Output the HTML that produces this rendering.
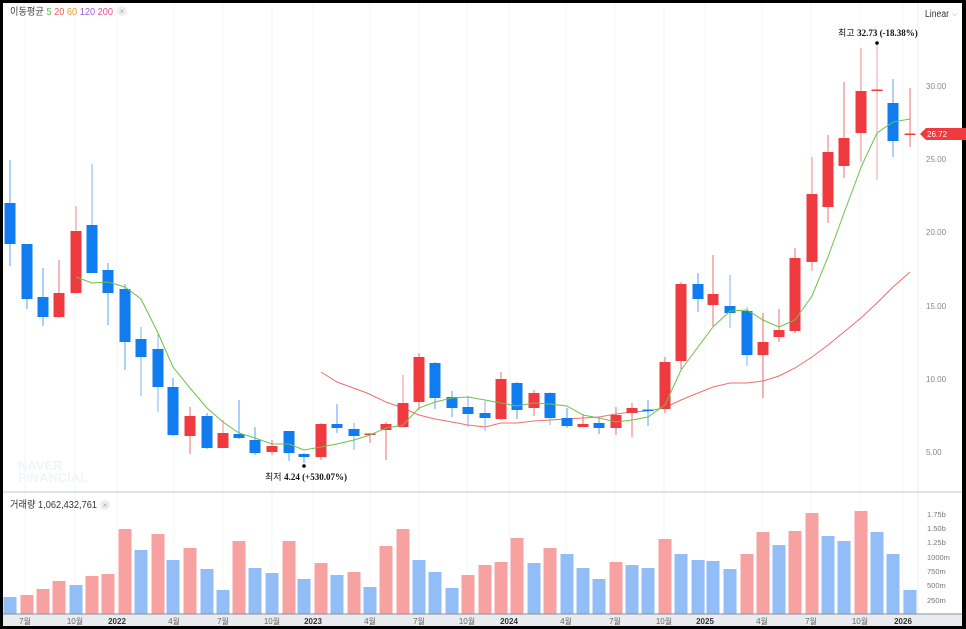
<!DOCTYPE html>
<html><head><meta charset="utf-8"><style>
html,body{margin:0;padding:0;background:#000;width:966px;height:629px;overflow:hidden}
svg{display:block}
text{font-family:"Liberation Sans","Noto Sans CJK KR",sans-serif}
</style></head><body>
<svg width="966" height="629" viewBox="0 0 966 629" xmlns="http://www.w3.org/2000/svg">
<rect x="0" y="0" width="966" height="629" fill="#000"/>
<rect x="3" y="3" width="959" height="623" fill="#fff"/>
<g stroke="#f3f4f6" stroke-width="1">
<line x1="25" y1="3" x2="25" y2="614"/><line x1="75" y1="3" x2="75" y2="614"/><line x1="117" y1="3" x2="117" y2="614"/><line x1="174" y1="3" x2="174" y2="614"/><line x1="223" y1="3" x2="223" y2="614"/><line x1="272" y1="3" x2="272" y2="614"/><line x1="313" y1="3" x2="313" y2="614"/><line x1="370" y1="3" x2="370" y2="614"/><line x1="419" y1="3" x2="419" y2="614"/><line x1="467" y1="3" x2="467" y2="614"/><line x1="509" y1="3" x2="509" y2="614"/><line x1="566" y1="3" x2="566" y2="614"/><line x1="615" y1="3" x2="615" y2="614"/><line x1="664" y1="3" x2="664" y2="614"/><line x1="705" y1="3" x2="705" y2="614"/><line x1="762" y1="3" x2="762" y2="614"/><line x1="811" y1="3" x2="811" y2="614"/><line x1="860" y1="3" x2="860" y2="614"/><line x1="903" y1="3" x2="903" y2="614"/>
</g>
<line x1="918" y1="3" x2="918" y2="614" stroke="#eceef1"/>
<line x1="3" y1="492" x2="962" y2="492" stroke="#d5d8dd" stroke-width="1.5"/>
<text x="18" y="470" font-size="13" font-weight="bold" fill="#f3f4f6">NAVER</text>
<text x="18" y="482" font-size="13" font-weight="bold" fill="#f3f4f6">FINANCIAL</text>
<text x="10" y="15" font-size="10" fill="#444" textLength="103" lengthAdjust="spacingAndGlyphs">이동평균 <tspan fill="#5fbf4a">5</tspan> <tspan fill="#f25a5a">20</tspan> <tspan fill="#f5962a">60</tspan> <tspan fill="#a25ed8">120</tspan> <tspan fill="#ea4d8c">200</tspan></text>
<circle cx="122" cy="11" r="5" fill="#eee"/><text x="122" y="14" font-size="8" fill="#aaa" text-anchor="middle">×</text>
<text x="925" y="17" font-size="10" fill="#333" textLength="24" lengthAdjust="spacingAndGlyphs">Linear</text><text x="952" y="16" font-size="7" fill="#999">⌵</text>
<g font-size="8" fill="#888">
<text x="926" y="89">30.00</text><text x="926" y="162">25.00</text><text x="926" y="235">20.00</text><text x="926" y="309">15.00</text><text x="926" y="382">10.00</text><text x="926" y="455">5.00</text>
</g>
<path d="M920 134 L926 128 L966 128 L966 140 L926 140 Z" fill="#ef3a3f"/>
<text x="927" y="137" font-size="8" fill="#fff">26.72</text>
<polyline fill="none" stroke="#f26d6d" stroke-width="1" points="321,372 337,382 367,393 386,402 403,408 419,415 435,419 452,422 468,425 485,427 501,423 517,423 534,421 550,420 567,419 583,418 599,417 616,414 632,412 648,411 664,408 681,400 698,393 713,387 730,383 747,383 763,381 779,376 795,368 812,357 828,345 844,332 862,317 878,302 893,287 910,272"/>
<g>
<line x1="10" y1="160" x2="10" y2="266" stroke="#5aa2f3"/><rect x="4.5" y="203" width="11" height="41" fill="#0f7cf0"/>
<line x1="27" y1="244" x2="27" y2="309" stroke="#5aa2f3"/><rect x="21.5" y="244" width="11" height="55" fill="#0f7cf0"/>
<line x1="43" y1="268" x2="43" y2="326" stroke="#5aa2f3"/><rect x="37.5" y="297" width="11" height="20" fill="#0f7cf0"/>
<line x1="59" y1="260" x2="59" y2="318" stroke="#f26d6d"/><rect x="53.5" y="293" width="11" height="24" fill="#ef3a3f"/>
<line x1="76" y1="206" x2="76" y2="294" stroke="#f58d8d"/><rect x="70.5" y="231" width="11" height="62" fill="#ef3a3f"/>
<line x1="92" y1="164" x2="92" y2="273" stroke="#7db5f5"/><rect x="86.5" y="225" width="11" height="48" fill="#0f7cf0"/>
<line x1="108" y1="263" x2="108" y2="325" stroke="#5aa2f3"/><rect x="102.5" y="270" width="11" height="23" fill="#0f7cf0"/>
<line x1="125" y1="284" x2="125" y2="370" stroke="#5aa2f3"/><rect x="119.5" y="289" width="11" height="53" fill="#0f7cf0"/>
<line x1="141" y1="327" x2="141" y2="396" stroke="#7db5f5"/><rect x="135.5" y="339" width="11" height="18" fill="#0f7cf0"/>
<line x1="158" y1="334" x2="158" y2="412" stroke="#7db5f5"/><rect x="152.5" y="349" width="11" height="38" fill="#0f7cf0"/>
<line x1="173" y1="378" x2="173" y2="436" stroke="#5aa2f3"/><rect x="167.5" y="387" width="11" height="48" fill="#0f7cf0"/>
<line x1="190" y1="407" x2="190" y2="454" stroke="#f26d6d"/><rect x="184.5" y="416" width="11" height="20" fill="#ef3a3f"/>
<line x1="207" y1="413" x2="207" y2="449" stroke="#5aa2f3"/><rect x="201.5" y="416" width="11" height="32" fill="#0f7cf0"/>
<line x1="223" y1="420" x2="223" y2="448" stroke="#f58d8d"/><rect x="217.5" y="433" width="11" height="15" fill="#ef3a3f"/>
<line x1="239" y1="400" x2="239" y2="439" stroke="#5aa2f3"/><rect x="233.5" y="434" width="11" height="4" fill="#0f7cf0"/>
<line x1="255" y1="427" x2="255" y2="455" stroke="#5aa2f3"/><rect x="249.5" y="440" width="11" height="13" fill="#0f7cf0"/>
<line x1="272" y1="440" x2="272" y2="455" stroke="#f26d6d"/><rect x="266.5" y="446" width="11" height="6" fill="#ef3a3f"/>
<line x1="289" y1="431" x2="289" y2="461" stroke="#5aa2f3"/><rect x="283.5" y="431" width="11" height="22" fill="#0f7cf0"/>
<line x1="304" y1="453" x2="304" y2="463" stroke="#5aa2f3"/><rect x="298.5" y="454" width="11" height="3" fill="#0f7cf0"/>
<line x1="321" y1="423" x2="321" y2="460" stroke="#f26d6d"/><rect x="315.5" y="424" width="11" height="33" fill="#ef3a3f"/>
<line x1="337" y1="404" x2="337" y2="433" stroke="#5aa2f3"/><rect x="331.5" y="424" width="11" height="4" fill="#0f7cf0"/>
<line x1="354" y1="423" x2="354" y2="450" stroke="#7db5f5"/><rect x="348.5" y="429" width="11" height="7" fill="#0f7cf0"/>
<line x1="370" y1="433" x2="370" y2="443" stroke="#f26d6d"/><rect x="364.5" y="433.5" width="11" height="1.5" fill="#ef3a3f"/>
<line x1="386" y1="422" x2="386" y2="460" stroke="#f26d6d"/><rect x="380.5" y="424" width="11" height="6" fill="#ef3a3f"/>
<line x1="403" y1="375" x2="403" y2="427" stroke="#f58d8d"/><rect x="397.5" y="403" width="11" height="24" fill="#ef3a3f"/>
<line x1="419" y1="353" x2="419" y2="410" stroke="#f26d6d"/><rect x="413.5" y="357" width="11" height="45" fill="#ef3a3f"/>
<line x1="435" y1="362" x2="435" y2="409" stroke="#5aa2f3"/><rect x="429.5" y="363" width="11" height="35" fill="#0f7cf0"/>
<line x1="452" y1="391" x2="452" y2="417" stroke="#5aa2f3"/><rect x="446.5" y="397" width="11" height="11" fill="#0f7cf0"/>
<line x1="468" y1="396" x2="468" y2="427" stroke="#7db5f5"/><rect x="462.5" y="407" width="11" height="7" fill="#0f7cf0"/>
<line x1="485" y1="401" x2="485" y2="431" stroke="#7db5f5"/><rect x="479.5" y="413" width="11" height="5" fill="#0f7cf0"/>
<line x1="501" y1="372" x2="501" y2="420" stroke="#f26d6d"/><rect x="495.5" y="379" width="11" height="40" fill="#ef3a3f"/>
<line x1="517" y1="382" x2="517" y2="419" stroke="#5aa2f3"/><rect x="511.5" y="383" width="11" height="27" fill="#0f7cf0"/>
<line x1="534" y1="390" x2="534" y2="416" stroke="#f26d6d"/><rect x="528.5" y="393" width="11" height="15" fill="#ef3a3f"/>
<line x1="550" y1="392" x2="550" y2="425" stroke="#7db5f5"/><rect x="544.5" y="393" width="11" height="25" fill="#0f7cf0"/>
<line x1="567" y1="408" x2="567" y2="428" stroke="#5aa2f3"/><rect x="561.5" y="418" width="11" height="8" fill="#0f7cf0"/>
<line x1="583" y1="414" x2="583" y2="427" stroke="#f26d6d"/><rect x="577.5" y="424" width="11" height="3" fill="#ef3a3f"/>
<line x1="599" y1="418" x2="599" y2="434" stroke="#5aa2f3"/><rect x="593.5" y="423" width="11" height="5" fill="#0f7cf0"/>
<line x1="616" y1="407" x2="616" y2="435" stroke="#f26d6d"/><rect x="610.5" y="415" width="11" height="13" fill="#ef3a3f"/>
<line x1="632" y1="403" x2="632" y2="437" stroke="#f26d6d"/><rect x="626.5" y="408" width="11" height="5" fill="#ef3a3f"/>
<line x1="648" y1="400" x2="648" y2="426" stroke="#5aa2f3"/><rect x="642.5" y="409.5" width="11" height="1.5" fill="#0f7cf0"/>
<line x1="665" y1="357" x2="665" y2="413" stroke="#f26d6d"/><rect x="659.5" y="362" width="11" height="47" fill="#ef3a3f"/>
<line x1="681" y1="282" x2="681" y2="369" stroke="#f26d6d"/><rect x="675.5" y="284" width="11" height="77" fill="#ef3a3f"/>
<line x1="698" y1="273" x2="698" y2="312" stroke="#5aa2f3"/><rect x="692.5" y="284" width="11" height="15" fill="#0f7cf0"/>
<line x1="713" y1="255" x2="713" y2="326" stroke="#f26d6d"/><rect x="707.5" y="294" width="11" height="11" fill="#ef3a3f"/>
<line x1="730" y1="275" x2="730" y2="328" stroke="#7db5f5"/><rect x="724.5" y="306" width="11" height="7" fill="#0f7cf0"/>
<line x1="747" y1="307" x2="747" y2="366" stroke="#7db5f5"/><rect x="741.5" y="311" width="11" height="44" fill="#0f7cf0"/>
<line x1="763" y1="313" x2="763" y2="398" stroke="#f26d6d"/><rect x="757.5" y="342" width="11" height="13" fill="#ef3a3f"/>
<line x1="779" y1="309" x2="779" y2="342" stroke="#f26d6d"/><rect x="773.5" y="330" width="11" height="7" fill="#ef3a3f"/>
<line x1="795" y1="248" x2="795" y2="333" stroke="#f26d6d"/><rect x="789.5" y="258" width="11" height="73" fill="#ef3a3f"/>
<line x1="812" y1="157" x2="812" y2="271" stroke="#f58d8d"/><rect x="806.5" y="194" width="11" height="68" fill="#ef3a3f"/>
<line x1="828" y1="135" x2="828" y2="223" stroke="#f26d6d"/><rect x="822.5" y="152" width="11" height="55" fill="#ef3a3f"/>
<line x1="844" y1="82" x2="844" y2="178" stroke="#f26d6d"/><rect x="838.5" y="138" width="11" height="28" fill="#ef3a3f"/>
<line x1="861" y1="48" x2="861" y2="162" stroke="#f58d8d"/><rect x="855.5" y="91" width="11" height="42" fill="#ef3a3f"/>
<line x1="877" y1="43" x2="877" y2="180" stroke="#f5a0a0"/><rect x="871.5" y="89.5" width="11" height="1.5" fill="#ef3a3f"/>
<line x1="893" y1="79" x2="893" y2="157" stroke="#5aa2f3"/><rect x="887.5" y="103" width="11" height="38" fill="#0f7cf0"/>
<line x1="910" y1="88" x2="910" y2="147" stroke="#f26d6d"/><rect x="904.5" y="133.5" width="11" height="1.5" fill="#ef3a3f"/>
</g>
<polyline fill="none" stroke="#6cc24a" stroke-width="1" points="76,277 92,283 108,282 125,287 141,299 158,333 173,367 190,388 207,408 223,422 239,433 255,438 272,444 289,444 304,450 321,447 337,444 354,440 370,435 386,428 403,425 419,408 435,402 452,398 468,397 485,400 501,403 517,406 534,403 550,404 567,406 583,415 599,418 616,422 632,420 648,417 665,405 681,370 698,347 713,327 730,311 747,310 763,320 779,327 795,320 812,296 828,257 844,213 862,165 877,133 893,122 910,119"/>
<circle cx="304" cy="466" r="1.8" fill="#000"/>
<text x="265" y="480" font-size="9" fill="#111">최저 <tspan font-family="Liberation Serif" font-weight="bold">4.24 (+530.07%)</tspan></text>
<circle cx="877" cy="43" r="1.8" fill="#000"/>
<text x="838" y="36" font-size="9" fill="#111">최고 <tspan font-family="Liberation Serif" font-weight="bold">32.73 (-18.38%)</tspan></text>
<text x="10" y="508" font-size="10" fill="#333" textLength="87" lengthAdjust="spacingAndGlyphs">거래량 1,062,432,761</text>
<circle cx="105" cy="505" r="5" fill="#eee"/><text x="105" y="508" font-size="8" fill="#aaa" text-anchor="middle">×</text>
<g font-size="7.5" fill="#777">
<text x="927" y="517">1.75b</text><text x="927" y="531">1.50b</text><text x="927" y="545">1.25b</text><text x="927" y="560">1000m</text><text x="927" y="574">750m</text><text x="927" y="588">500m</text><text x="927" y="603">250m</text>
</g>
<g>
<rect x="3.5" y="597" width="13" height="17" fill="#93bdf6"/>
<rect x="20.5" y="595" width="13" height="19" fill="#f7a1a1"/>
<rect x="36.5" y="589" width="13" height="25" fill="#f7a1a1"/>
<rect x="52.5" y="581" width="13" height="33" fill="#f7a1a1"/>
<rect x="69.5" y="585" width="13" height="29" fill="#93bdf6"/>
<rect x="85.5" y="576" width="13" height="38" fill="#f7a1a1"/>
<rect x="101.5" y="574" width="13" height="40" fill="#f7a1a1"/>
<rect x="118.5" y="529" width="13" height="85" fill="#f7a1a1"/>
<rect x="134.5" y="550" width="13" height="64" fill="#93bdf6"/>
<rect x="151.5" y="534" width="13" height="80" fill="#f7a1a1"/>
<rect x="166.5" y="560" width="13" height="54" fill="#93bdf6"/>
<rect x="183.5" y="548" width="13" height="66" fill="#f7a1a1"/>
<rect x="200.5" y="569" width="13" height="45" fill="#93bdf6"/>
<rect x="216.5" y="590" width="13" height="24" fill="#93bdf6"/>
<rect x="232.5" y="541" width="13" height="73" fill="#f7a1a1"/>
<rect x="248.5" y="568" width="13" height="46" fill="#93bdf6"/>
<rect x="265.5" y="573" width="13" height="41" fill="#93bdf6"/>
<rect x="282.5" y="541" width="13" height="73" fill="#f7a1a1"/>
<rect x="297.5" y="579" width="13" height="35" fill="#93bdf6"/>
<rect x="314.5" y="563" width="13" height="51" fill="#f7a1a1"/>
<rect x="330.5" y="575" width="13" height="39" fill="#93bdf6"/>
<rect x="347.5" y="572" width="13" height="42" fill="#f7a1a1"/>
<rect x="363.5" y="587" width="13" height="27" fill="#93bdf6"/>
<rect x="379.5" y="546" width="13" height="68" fill="#f7a1a1"/>
<rect x="396.5" y="529" width="13" height="85" fill="#f7a1a1"/>
<rect x="412.5" y="560" width="13" height="54" fill="#93bdf6"/>
<rect x="428.5" y="572" width="13" height="42" fill="#93bdf6"/>
<rect x="445.5" y="588" width="13" height="26" fill="#93bdf6"/>
<rect x="461.5" y="575" width="13" height="39" fill="#f7a1a1"/>
<rect x="478.5" y="565" width="13" height="49" fill="#f7a1a1"/>
<rect x="494.5" y="562" width="13" height="52" fill="#f7a1a1"/>
<rect x="510.5" y="538" width="13" height="76" fill="#f7a1a1"/>
<rect x="527.5" y="563" width="13" height="51" fill="#93bdf6"/>
<rect x="543.5" y="548" width="13" height="66" fill="#f7a1a1"/>
<rect x="560.5" y="554" width="13" height="60" fill="#93bdf6"/>
<rect x="576.5" y="568" width="13" height="46" fill="#93bdf6"/>
<rect x="592.5" y="579" width="13" height="35" fill="#93bdf6"/>
<rect x="609.5" y="562" width="13" height="52" fill="#f7a1a1"/>
<rect x="625.5" y="565" width="13" height="49" fill="#93bdf6"/>
<rect x="641.5" y="568" width="13" height="46" fill="#93bdf6"/>
<rect x="658.5" y="539" width="13" height="75" fill="#f7a1a1"/>
<rect x="674.5" y="554" width="13" height="60" fill="#93bdf6"/>
<rect x="691.5" y="560" width="13" height="54" fill="#93bdf6"/>
<rect x="706.5" y="561" width="13" height="53" fill="#93bdf6"/>
<rect x="723.5" y="569" width="13" height="45" fill="#93bdf6"/>
<rect x="740.5" y="554" width="13" height="60" fill="#f7a1a1"/>
<rect x="756.5" y="532" width="13" height="82" fill="#f7a1a1"/>
<rect x="772.5" y="545" width="13" height="69" fill="#93bdf6"/>
<rect x="788.5" y="531" width="13" height="83" fill="#f7a1a1"/>
<rect x="805.5" y="513" width="13" height="101" fill="#f7a1a1"/>
<rect x="821.5" y="536" width="13" height="78" fill="#93bdf6"/>
<rect x="837.5" y="541" width="13" height="73" fill="#93bdf6"/>
<rect x="854.5" y="511" width="13" height="103" fill="#f7a1a1"/>
<rect x="870.5" y="532" width="13" height="82" fill="#93bdf6"/>
<rect x="886.5" y="554" width="13" height="60" fill="#93bdf6"/>
<rect x="903.5" y="590" width="13" height="24" fill="#93bdf6"/>
</g>
<rect x="3" y="614" width="959" height="12" fill="#e9ebee"/>
<line x1="3" y1="614" x2="962" y2="614" stroke="#8a9099"/>
<g font-size="8" fill="#666" text-anchor="middle">
<text x="25" y="624">7월</text><text x="75" y="624">10월</text><text x="117" y="624" font-weight="bold" fill="#333">2022</text><text x="174" y="624">4월</text><text x="223" y="624">7월</text><text x="272" y="624">10월</text><text x="313" y="624" font-weight="bold" fill="#333">2023</text><text x="370" y="624">4월</text><text x="419" y="624">7월</text><text x="467" y="624">10월</text><text x="509" y="624" font-weight="bold" fill="#333">2024</text><text x="566" y="624">4월</text><text x="615" y="624">7월</text><text x="664" y="624">10월</text><text x="705" y="624" font-weight="bold" fill="#333">2025</text><text x="762" y="624">4월</text><text x="811" y="624">7월</text><text x="860" y="624">10월</text><text x="903" y="624" font-weight="bold" fill="#333">2026</text>
</g>
</svg>
</body></html>
